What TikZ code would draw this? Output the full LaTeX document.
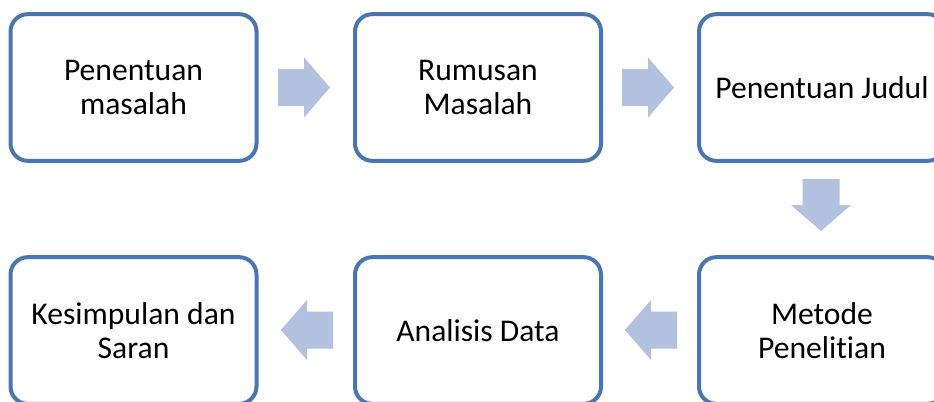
\documentclass[tikz,border=0pt]{standalone}
\usepackage{fontspec}
\setmainfont[Ligatures=NoCommon, RawFeature={-liga;-clig;-calt;-dlig}]{Carlito}
\definecolor{boxline}{RGB}{74,118,173}
\definecolor{arrowfill}{RGB}{178,193,222}
\tikzset{
  stepbox/.style={draw=boxline, line width=3pt, fill=white, rounded corners=13pt,
    minimum width=184.5pt, minimum height=110pt, align=center,
    font=\fontsize{23.7}{26}\selectfont, inner sep=0pt},
  flowarrow/.pic={
    \fill[arrowfill] (0,-18.5) -- (26,-18.5) -- (26,-30) -- (52,0) -- (26,30)
      -- (26,18.5) -- (0,18.5) -- cycle;
  }
}
\begin{document}
\begin{tikzpicture}[x=0.75pt, y=-0.75pt]
  \useasboundingbox (0,0) rectangle (934,401);
  \clip (0,0) rectangle (934,401);
  % top row
  \node[stepbox] (b1) at (133.5,87.5) {Penentuan\\masalah};
  \node[stepbox] (b2) at (478,87.5) {Rumusan\\Masalah};
  \node[stepbox] (b3) at (822,87.5) {Penentuan Judul};
  % bottom row
  \node[stepbox] (b6) at (822,330.5) {Metode\\Penelitian};
  \node[stepbox] (b5) at (478,330.5) {Analisis Data};
  \node[stepbox] (b4) at (133.5,330.5) {Kesimpulan dan\\Saran};
  % block arrows between the steps
  \pic at (278,87.5) {flowarrow};
  \pic at (622,87.5) {flowarrow};
  \pic[rotate=-90] at (821,179) {flowarrow};
  \pic[rotate=180] at (677,330) {flowarrow};
  \pic[rotate=180] at (333,330) {flowarrow};
\end{tikzpicture}
\end{document}
